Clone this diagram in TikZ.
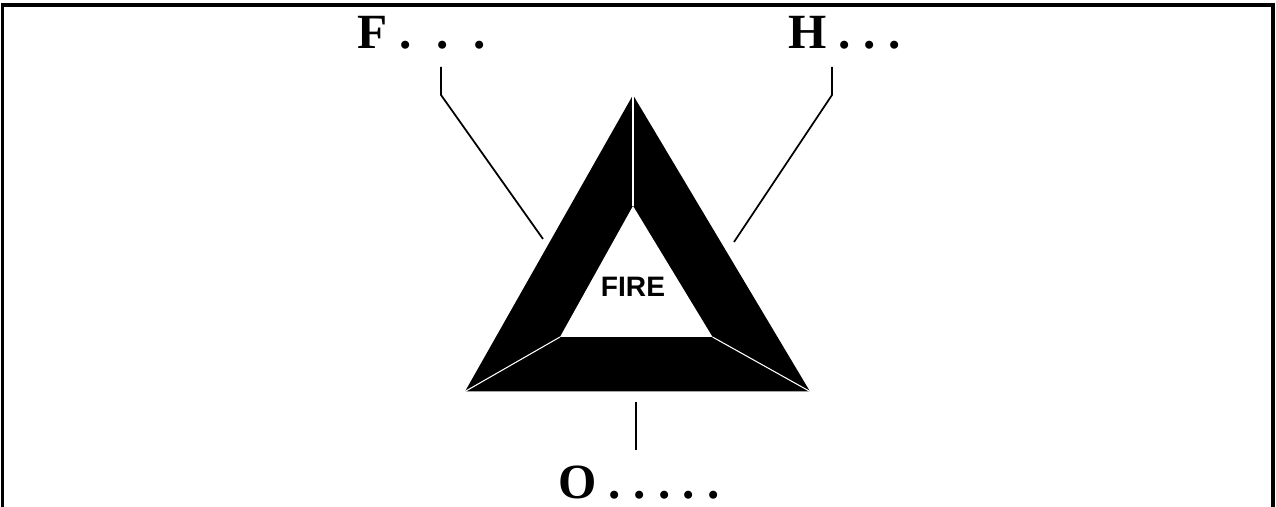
\documentclass[tikz,border=0pt]{standalone}
\usepackage{fontspec}
\setmainfont{Liberation Serif}
\newfontfamily\firefont{Liberation Sans}
\frenchspacing
\begin{document}
\begin{tikzpicture}[scale=1.0,
  lbl/.style={font=\bfseries\fontsize{28}{30}\selectfont,inner sep=0pt,anchor=base west},
  leader/.style={line width=1pt},
  seam/.style={white,line width=0.6pt}]
\useasboundingbox (0,0) rectangle (25.52,10.14);
\draw[line width=2.2pt] (0.05,0) -- (0.05,10.04) -- (25.46,10.04) -- (25.46,0);

\coordinate (oTop) at (12.66,8.24);
\coordinate (oLeft) at (9.30,2.31);
\coordinate (oRight) at (16.20,2.31);
\coordinate (iTop) at (12.66,6.02);
\coordinate (iLeft) at (11.20,3.40);
\coordinate (iRight) at (14.25,3.40);

\fill[black] (oTop) -- (oLeft) -- (oRight) -- cycle;
\fill[white] (iTop) -- (iLeft) -- (iRight) -- cycle;
\draw[seam] (oTop) -- (iTop);
\draw[seam] (oLeft) -- (iLeft);
\draw[seam] (oRight) -- (iRight);

\node (fire) at (12.66,4.40) {\firefont\bfseries\fontsize{16}{18}\selectfont FIRE};

\node[lbl] (fuel) at (7.14,9.16) {F .~~.~~.};
\node[lbl] (heat) at (15.76,9.16) {H . . .};
\node[lbl] (oxy) at (11.16,0.17) {O . . . . .};

\coordinate (fTop) at (8.82,8.80);
\coordinate (fBend) at (8.82,8.24);
\coordinate (fTip) at (10.86,5.36);
\coordinate (hTop) at (16.64,8.80);
\coordinate (hBend) at (16.64,8.24);
\coordinate (hTip) at (14.68,5.30);
\coordinate (oTip) at (12.72,2.10);
\coordinate (oEnd) at (12.72,1.14);

\draw[leader] (fTop) -- (fBend) -- (fTip);
\draw[leader] (hTop) -- (hBend) -- (hTip);
\draw[leader] (oTip) -- (oEnd);
\end{tikzpicture}
\end{document}
